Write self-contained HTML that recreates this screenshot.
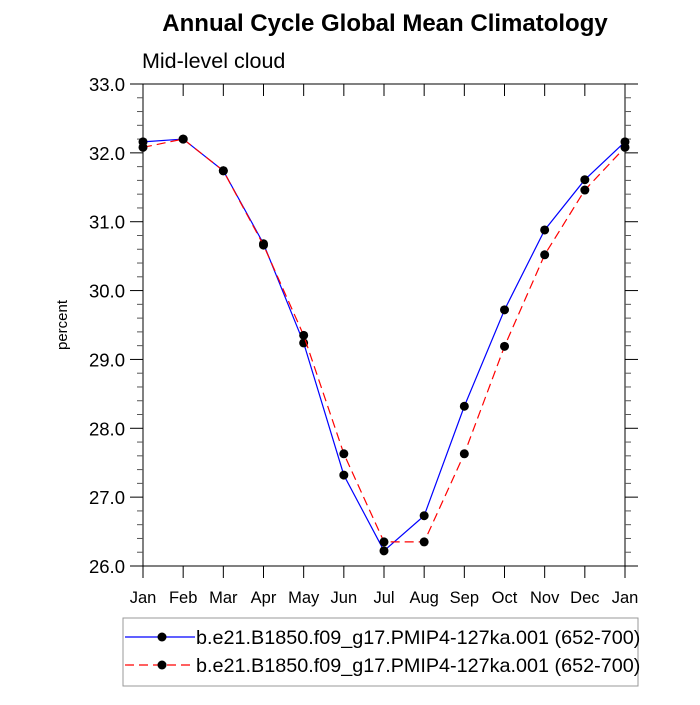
<!DOCTYPE html>
<html><head><meta charset="utf-8"><style>
body{margin:0;background:#fff;width:700px;height:700px;overflow:hidden;font-family:"Liberation Sans",sans-serif}
</style></head><body>
<svg width="700" height="700" xmlns="http://www.w3.org/2000/svg" font-family="Liberation Sans, sans-serif">
<text x="385" y="31" text-anchor="middle" font-size="24" font-weight="bold">Annual Cycle Global Mean Climatology</text>
<text x="142" y="68" font-size="21.5">Mid-level cloud</text>
<text transform="translate(67,325) rotate(-90)" text-anchor="middle" font-size="15">percent</text>
<g id="axes"></g>
<g id="series"></g>
<g>
<rect x="123" y="618" width="515" height="68" fill="#fff" stroke="#999" stroke-width="1"/>
<g>
<line x1="125" y1="637" x2="195" y2="637" stroke="#00f" stroke-width="1.2"/>
<circle cx="162" cy="637" r="4.5" fill="#000"/>
<text x="196" y="644" font-size="19.8">b.e21.B1850.f09_g17.PMIP4-127ka.001 (652-700)</text></g>
<g>
<line x1="125" y1="665" x2="195" y2="665" stroke="#f00" stroke-width="1.2" stroke-dasharray="9,5"/>
<circle cx="162" cy="665" r="4.5" fill="#000"/>
<text x="196" y="672" font-size="19.8">b.e21.B1850.f09_g17.PMIP4-127ka.001 (652-700)</text></g>
</g>
</svg>
<script>
const months=["Jan","Feb","Mar","Apr","May","Jun","Jul","Aug","Sep","Oct","Nov","Dec","Jan"];
const blueValues=[32.16,32.20,31.74,30.68,29.24,27.32,26.22,26.73,28.32,29.72,30.88,31.61,32.16];
const redValues=[32.08,32.20,31.74,30.66,29.35,27.63,26.35,26.35,27.63,29.19,30.52,31.46,32.08];
const yTicks=["26.0","27.0","28.0","29.0","30.0","31.0","32.0","33.0"];
const X0=143,X1=625,Y0=566,Y1=84,YMIN=26,YMAX=33;
const sx=i=>X0+(X1-X0)*i/(months.length-1);
const sy=v=>Y0-(v-YMIN)/(YMAX-YMIN)*(Y0-Y1);
const NS="http://www.w3.org/2000/svg";
function mk(t,a,p){const e=document.createElementNS(NS,t);for(const k in a)e.setAttribute(k,a[k]);p.appendChild(e);return e;}
const ax=document.getElementById('axes');
const frame=mk('rect',{x:X0,y:Y1,width:X1-X0,height:Y0-Y1,fill:'none',stroke:'#000','stroke-width':1},ax);


months.forEach((m,i)=>{
  const x=sx(i);
  mk('line',{x1:x,y1:Y0,x2:x,y2:Y0+12,stroke:'#000'},ax);
  mk('line',{x1:x,y1:Y1,x2:x,y2:Y1+12,stroke:'#000'},ax);
  const t=mk('text',{x:x,y:Y0+37,'text-anchor':'middle','font-size':16.5},ax);
  t.textContent=m;
  
  
});
yTicks.forEach(s=>{
  const v=parseFloat(s),y=sy(v);
  mk('line',{x1:X0-13,y1:y,x2:X0,y2:y,stroke:'#000'},ax);
  mk('line',{x1:X1,y1:y,x2:X1+13,y2:y,stroke:'#000'},ax);
  const t=mk('text',{x:X0-18,y:y+7,'text-anchor':'end','font-size':18.5},ax);
  t.textContent=s;
  
  
  if(v<YMAX){for(let k=1;k<5;k++){const yy=sy(v+k*0.2);
    mk('line',{x1:X0-6,y1:yy,x2:X0,y2:yy,stroke:'#555'},ax);
    mk('line',{x1:X1,y1:yy,x2:X1+6,y2:yy,stroke:'#555'},ax);}}
});
const sg=document.getElementById('series');
function draw(vals,color,dash,name){
  const g=mk('g',{},sg);
  
  
  const pts=vals.map((v,i)=>sx(i)+','+sy(v)).join(' ');
  const a={points:pts,fill:'none',stroke:color,'stroke-width':1.2};
  if(dash)a['stroke-dasharray']=dash;
  mk('polyline',a,g);
  vals.forEach((v,i)=>{const c=mk('circle',{cx:sx(i),cy:sy(v),r:4.5,fill:'#000'},g);
    
    });
}
draw(blueValues,'#00f',null,'series-blue');
draw(redValues,'#f00','9,5','series-red');
</script>
</body></html>
